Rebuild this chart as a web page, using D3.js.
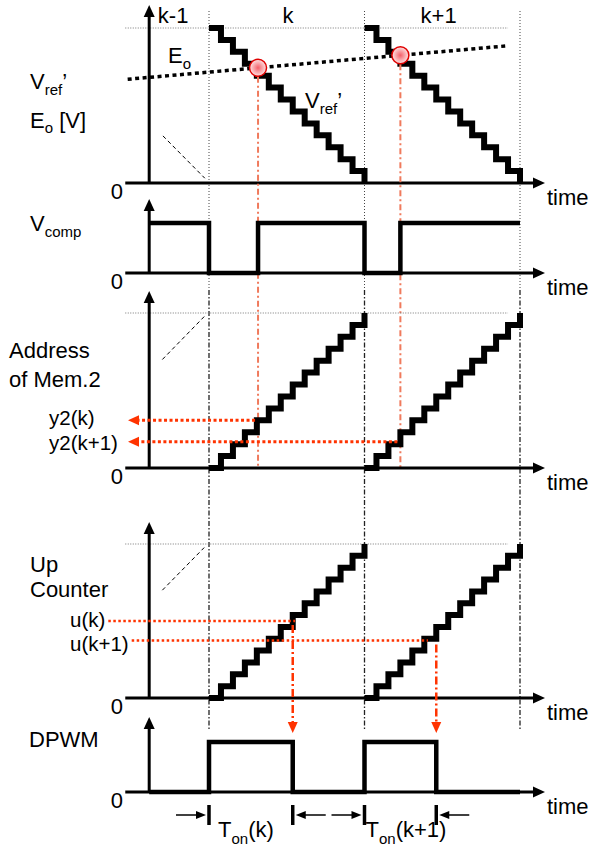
<!DOCTYPE html>
<html>
<head>
<meta charset="utf-8">
<script src="https://cdn.jsdelivr.net/npm/d3@7"></script>
<style>
  body { margin: 0; background: #fff; }
  text { font-family: "Liberation Sans", Arial, Helvetica, sans-serif; fill: #000; }
</style>
</head>
<body>
<script>
// counter / reference levels of one period (13 steps)
const levels = [0, 1, 2, 3, 4, 5, 6, 7, 8, 9, 10, 11, 12, 13];
const periodStart = [0, 13];
const boundaries = [0, 13, 26];
const periodNames = ["k-1", "k", "k+1"];
const periodMid = [-3, 6.6, 19.2];

// Eo line (time, volts in step units)
const eoT = [-6.8, 24.9];
const eoV = [8.7, 11.5];

// comparator crossings
const crossT = [4.1, 16.0];
const y2Names = ["y2(k)", "y2(k+1)"];
const y2Vals = [4.0, 2.2];

// up counter compare values
const uNames = ["u(k)", "u(k+1)"];
const uVals = [6.5, 4.85];
const uEnd = [7.2, 18.3];
const offT = [7, 19];
const tonNames = ["(k)", "(k+1)"];

// dashed tails of the previous period
const tailDown = [[-3.85, 3.95], [-0.35, 0.4]];
const tailUp = [[-3.9, 9.1], [-0.4, 12.7]];

const W = 592, H = 852;
const RED = "#ff3300";
const svg = d3.select("body").append("svg").attr("width", W).attr("height", H);

const defs = svg.append("defs");
const grad = defs.append("radialGradient").attr("id", "dot");
grad.append("stop").attr("offset", "0%").attr("stop-color", "#f4606a");
grad.append("stop").attr("offset", "100%").attr("stop-color", "#fde4e4");

const x = d3.scaleLinear().domain([0, 26]).range([209, 520]);
const panels = {
    ref:  {y: d3.scaleLinear().domain([0, 13]).range([183, 28]), top: 5},
    comp: {y: d3.scaleLinear().domain([0, 1]).range([273, 223]), top: 199},
    addr: {y: d3.scaleLinear().domain([0, 13]).range([468, 313]), top: 291},
    cnt:  {y: d3.scaleLinear().domain([0, 13]).range([698, 544]), top: 522},
    pwm:  {y: d3.scaleLinear().domain([0, 1]).range([792, 742]), top: 717}
};
const eo = d3.scaleLinear().domain(eoT).range(eoV);

// period boundaries
boundaries.forEach(b => {
    svg.append("line").attr("x1", x(b)).attr("x2", x(b)).attr("y1", 11).attr("y2", 290)
        .attr("stroke", "#444").attr("stroke-width", 1).attr("stroke-dasharray", "1,2");
    svg.append("line").attr("x1", x(b)).attr("x2", x(b)).attr("y1", 290).attr("y2", 730)
        .attr("stroke", "#222").attr("stroke-width", 1.3).attr("stroke-dasharray", "5,2,1.5,2");
});

periodNames.forEach((n, i) => {
    svg.append("text").attr("x", x(periodMid[i])).attr("y", 23).attr("text-anchor", "middle")
        .attr("font-size", 22).text(n);
});

function axes(p) {
    const y0 = p.y(0), xa = x(-5);
    svg.append("line").attr("x1", x(-7)).attr("x2", 537).attr("y1", y0).attr("y2", y0)
        .attr("stroke", "#000").attr("stroke-width", 3);
    svg.append("path").attr("d", `M545,${y0} L533,${y0 - 5.5} L533,${y0 + 5.5} Z`).attr("fill", "#000");
    svg.append("line").attr("x1", xa).attr("x2", xa).attr("y1", y0).attr("y2", p.top + 10)
        .attr("stroke", "#000").attr("stroke-width", 3);
    svg.append("path").attr("d", `M${xa},${p.top} L${xa - 5.5},${p.top + 12} L${xa + 5.5},${p.top + 12} Z`).attr("fill", "#000");
    svg.append("text").attr("x", 123).attr("y", y0 + 16).attr("text-anchor", "end").attr("font-size", 22).text("0");
    svg.append("text").attr("x", 547).attr("y", y0 + 22).attr("font-size", 22).text("time");
}

function topLine(p) {
    svg.append("line").attr("x1", x(-7)).attr("x2", x(25)).attr("y1", p.y(13)).attr("y2", p.y(13))
        .attr("stroke", "#777").attr("stroke-width", 1).attr("stroke-dasharray", "1,1.5");
}

function tail(p, pts) {
    svg.append("line").attr("x1", x(pts[0][0])).attr("y1", p.y(pts[0][1]))
        .attr("x2", x(pts[1][0])).attr("y2", p.y(pts[1][1]))
        .attr("stroke", "#000").attr("stroke-width", 1).attr("stroke-dasharray", "4,3");
}

function stairs(p, start, down) {
    const pts = [[start, levels[0]]];
    for (let i = 1; i < levels.length; i++) {
        pts.push([start + i, levels[i - 1]]);
        pts.push([start + i, levels[i]]);
    }
    const line = d3.line().x(d => x(d[0])).y(d => p.y(down ? 13 - d[1] : d[1]));
    svg.append("path").attr("d", line(pts)).attr("fill", "none")
        .attr("stroke", "#000").attr("stroke-width", 6).attr("stroke-linejoin", "miter");
}

function signal(p, pts) {
    const line = d3.line().x(d => x(d[0])).y(d => p.y(d[1]));
    svg.append("path").attr("d", line(pts)).attr("fill", "none")
        .attr("stroke", "#000").attr("stroke-width", 4.5).attr("stroke-linejoin", "miter");
}

function label(xp, yp, parts, size) {
    const fs = size || 22;
    const t = svg.append("text").attr("x", xp).attr("y", yp).attr("font-size", fs);
    parts.forEach(s => t.append("tspan").attr("font-size", s[1] || fs).attr("dy", s[2] || 0).text(s[0]));
    return t;
}

// ---- panel 1: Vref', Eo
const P1 = panels.ref;
topLine(P1);
tail(P1, tailDown);
periodStart.forEach(s => stairs(P1, s, true));
axes(P1);
svg.append("line").attr("x1", x(eoT[0])).attr("y1", P1.y(eoV[0])).attr("x2", x(eoT[1])).attr("y2", P1.y(eoV[1]))
    .attr("stroke", "#000").attr("stroke-width", 3.5).attr("stroke-dasharray", "4,3.5");
label(30, 89, [["V"], ["ref", 15, 6], ["\u2019", 22, -6]]);
label(30, 128, [["E"], ["o", 15, 5], [" [V]", 22, -5]]);
label(168, 63, [["E"], ["o", 15, 6]]);
label(305, 108, [["V"], ["ref", 15, 6], ["\u2019", 22, -6]]);

// ---- red crossing guides
crossT.forEach((t, i) => {
    const cy = P1.y(eo(t));
    svg.append("line").attr("x1", x(t)).attr("x2", x(t)).attr("y1", cy + 9).attr("y2", panels.addr.y(0) + 1)
        .attr("stroke", "#f07a5c").attr("stroke-width", 2).attr("stroke-dasharray", "6,3,2,3");
    svg.append("circle").attr("cx", x(t)).attr("cy", cy).attr("r", 8.5)
        .attr("fill", "url(#dot)").attr("stroke", "#e00000").attr("stroke-width", 1.5);
});

// ---- panel 2: Vcomp
const P2 = panels.comp;
axes(P2);
signal(P2, [[-5, 1], [0, 1], [0, 0], [crossT[0], 0], [crossT[0], 1], [13, 1], [13, 0], [crossT[1], 0], [crossT[1], 1], [26, 1]]);
label(30, 231, [["V"], ["comp", 15, 6]]);

// ---- panel 3: Address of Mem.2
const P3 = panels.addr;
topLine(P3);
tail(P3, tailUp);
periodStart.forEach(s => stairs(P3, s, false));
axes(P3);
label(9, 358, [["Address"]]);
label(9, 387, [["of Mem.2"]]);
y2Vals.forEach((v, i) => {
    const yy = P3.y(v);
    svg.append("line").attr("x1", x(crossT[i]) - 3).attr("x2", 136).attr("y1", yy).attr("y2", yy)
        .attr("stroke", RED).attr("stroke-width", 3).attr("stroke-dasharray", "3,2.5");
    svg.append("path").attr("d", `M128,${yy} L139,${yy - 5} L139,${yy + 5} Z`).attr("fill", RED);
    label(49, yy + (i === 0 ? 5 : 8), [[y2Names[i]]], 20.5);
});

// ---- panel 4: Up Counter
const P4 = panels.cnt;
topLine(P4);
tail(P4, tailUp);
periodStart.forEach(s => stairs(P4, s, false));
axes(P4);
label(30, 572, [["Up"]]);
label(30, 597, [["Counter"]]);
uVals.forEach((v, i) => {
    const yy = P4.y(v);
    const t = label(70, yy + (i === 0 ? 6 : 10), [[uNames[i]]], 20.5);
    const x0 = 70 + t.node().getComputedTextLength() + 3;
    svg.append("line").attr("x1", x0).attr("x2", x(uEnd[i])).attr("y1", yy).attr("y2", yy)
        .attr("stroke", RED).attr("stroke-width", 2.5).attr("stroke-dasharray", "2.5,2.5");
    const tip = panels.pwm.y(1) - 9;
    svg.append("line").attr("x1", x(offT[i])).attr("x2", x(offT[i])).attr("y1", yy + 4).attr("y2", tip - 9)
        .attr("stroke", RED).attr("stroke-width", 2.5).attr("stroke-dasharray", "8,3,2,3");
    svg.append("path").attr("d", `M${x(offT[i])},${tip} L${x(offT[i]) - 5},${tip - 11} L${x(offT[i]) + 5},${tip - 11} Z`)
        .attr("fill", RED);
});

// ---- panel 5: DPWM
const P5 = panels.pwm;
axes(P5);
signal(P5, [[-5, 0], [0, 0], [0, 1], [offT[0], 1], [offT[0], 0], [13, 0], [13, 1], [offT[1], 1], [offT[1], 0], [26, 0]]);
label(29, 747, [["DPWM"]]);

// Ton markers
periodStart.forEach((s, i) => {
    [s, offT[i]].forEach((t, j) => {
        const xx = x(t);
        svg.append("line").attr("x1", xx).attr("x2", xx).attr("y1", 805).attr("y2", 825)
            .attr("stroke", "#000").attr("stroke-width", 3.5);
        const dir = j === 0 ? 1 : -1;
        const tipX = xx - dir * 3;
        svg.append("line").attr("x1", tipX - dir * 30).attr("x2", tipX - dir * 8).attr("y1", 815).attr("y2", 815)
            .attr("stroke", "#000").attr("stroke-width", 1.5);
        svg.append("path").attr("d", `M${tipX},815 L${tipX - dir * 10},811 L${tipX - dir * 10},819 Z`).attr("fill", "#000");
    });
    label(x(s) + (i === 0 ? 9 : 1), 837, [["T"], ["on", 15, 7], [tonNames[i], 22, -7]]);
});
</script>
</body>
</html>
